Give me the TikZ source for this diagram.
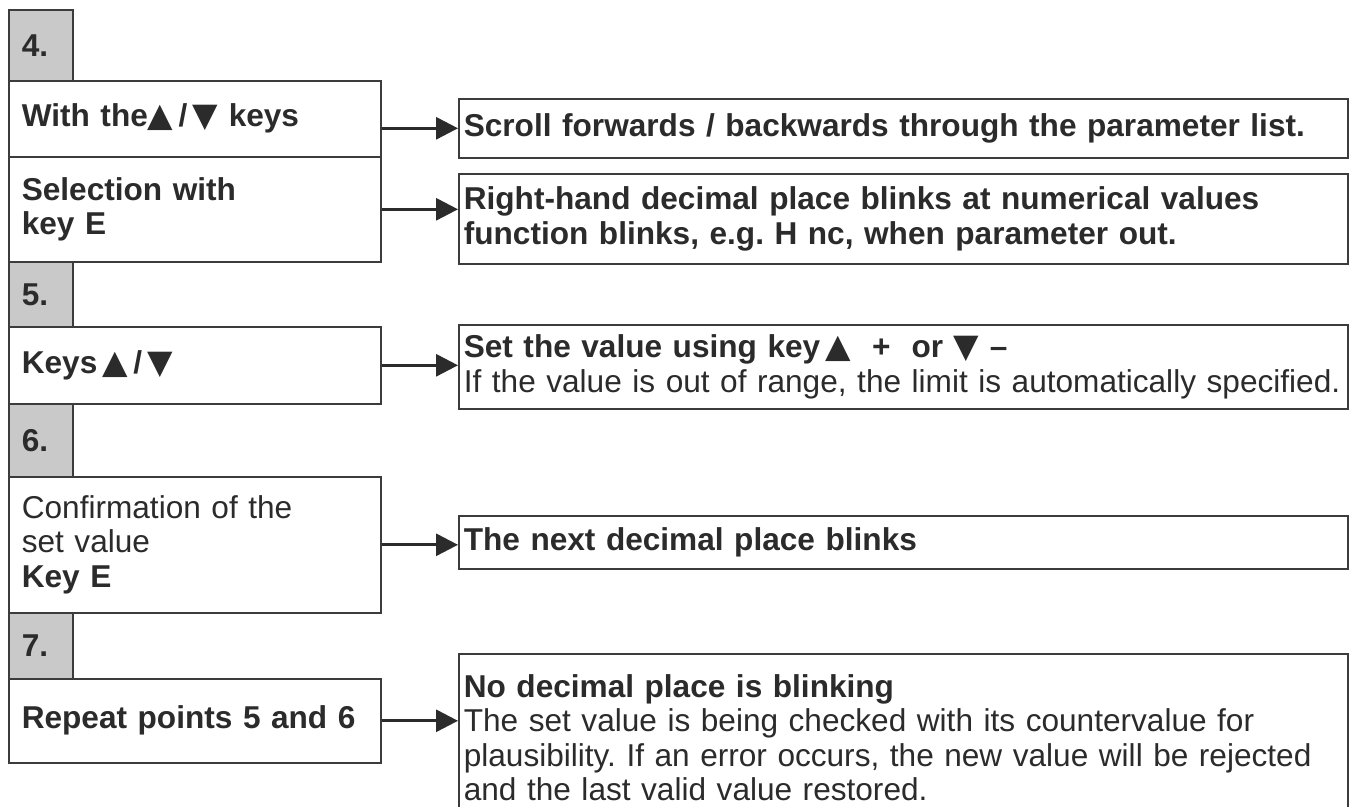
\documentclass[tikz,border=0pt]{standalone}
\usepackage{fontspec}
\setmainfont{Liberation Sans}
\newfontfamily\trifont[Scale=1.05]{DejaVu Sans}
\usetikzlibrary{arrows.meta}

\definecolor{boxline}{HTML}{3C3C3C}
\definecolor{stepgray}{HTML}{C8C9C8}
\definecolor{inkcol}{HTML}{2B2B2B}

\newcommand{\keyup}{{\trifont ▲}}
\newcommand{\keydown}{{\trifont ▼}}

\frenchspacing

\begin{document}
\begin{tikzpicture}[
    x=0.5pt, y=-0.5pt,
    font=\fontsize{15.8}{17.3}\selectfont,
    stepnum/.style={draw=boxline, line width=0.8pt, fill=stepgray, text=inkcol, anchor=north west, text width=19pt, inner xsep=6.5pt, inner ysep=0pt, align=left, font=\fontsize{15.8}{17}\selectfont\bfseries},
    action/.style={draw=boxline, line width=0.8pt, text=inkcol, anchor=north west, text width=173pt, inner xsep=6.5pt, inner ysep=0pt, align=left},
    result/.style={draw=boxline, line width=0.8pt, text=inkcol, anchor=north west, text width=439.5pt, inner xsep=2.5pt, inner ysep=0pt, align=left},
    edge/.style={-{Triangle[length=11pt, width=11pt]}, line width=1.5pt, draw=inkcol} % Pfeilstil
]
\clip (0,0) rectangle (1354,807);
\fill[white] (0,0) rectangle (1354,807);

% Schrittnummern
\foreach \n/\y/\h in {4/9/71, 5/261/65, 6/403/73, 7/612/66} {
    \node[stepnum, minimum height=\h*0.5pt] (s\n) at (8,\y) {\n.};
}

% Bedienschritte links
\node[action, minimum height=38pt] (a1) at (8,80) {\textbf{With the\keyup\,/\,\keydown\ keys}};
\node[action, minimum height=52.5pt] (a2) at (8,156) {\textbf{Selection with}\\\textbf{key E}};
\node[action, minimum height=38.5pt] (a3) at (8,326) {\textbf{Keys\,\keyup\,/\,\keydown}};
\node[action, minimum height=68pt] (a4) at (8,476) {Confirmation of the\\set value\\\textbf{Key E}};
\node[action, minimum height=42pt] (a5) at (8,678) {\textbf{Repeat points 5 and 6}};

% Reaktionen rechts
\node[result, minimum height=29.5pt] (r1) at (458,98) {\textbf{Scroll forwards / backwards through the parameter list.}};
\node[result, minimum height=45pt] (r2) at (458,173) {\textbf{Right-hand decimal place blinks at numerical values}\\\textbf{function blinks, e.g. H nc, when parameter out.}};
\node[result, minimum height=42pt] (r3) at (458,324) {\textbf{Set the value using key\,\keyup\ \ + \ or \keydown\ –}\\If the value is out of range, the limit is automatically specified.};
\node[result, minimum height=26.5pt] (r4) at (458,515) {\textbf{The next decimal place blinks}};
\node[result, minimum height=84pt] (r5) at (458,653) {\textbf{No decimal place is blinking}\\The set value is being checked with its countervalue for\\plausibility. If an error occurs, the new value will be rejected\\and the last valid value restored.};

% Pfeile
\draw[edge] (r1.west -| a1.east) -- (r1.west);
\foreach \i in {2,...,5} {
    \draw[edge] (a\i.east) -- (a\i.east -| r\i.west);
}

\end{tikzpicture}
\end{document}
